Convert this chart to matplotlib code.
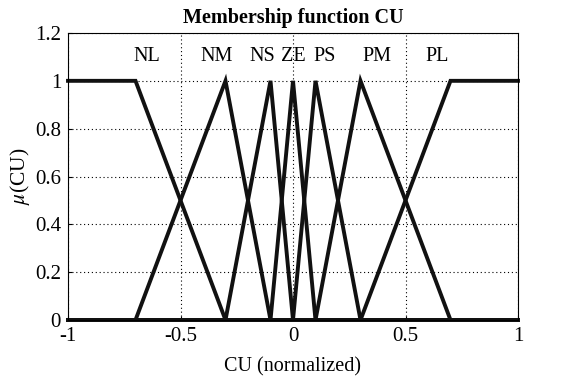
import matplotlib
matplotlib.use("Agg")
import matplotlib.pyplot as plt

plt.rcParams['font.family'] = ['Liberation Serif', 'DejaVu Serif']
plt.rcParams['mathtext.fontset'] = 'stix'

# membership functions: breakpoints (x) and memberships (y), over [-1, 1]
mf_names = ["NL", "NM", "NS", "ZE", "PS", "PM", "PL"]
mf_x = [
    [-1, -0.7, -0.3, 1],
    [-1, -0.7, -0.3, -0.1, 1],
    [-1, -0.3, -0.1, 0, 1],
    [-1, -0.1, 0, 0.1, 1],
    [-1, 0, 0.1, 0.3, 1],
    [-1, 0.1, 0.3, 0.7, 1],
    [-1, 0.3, 0.7, 1],
]
mf_y = [
    [1, 1, 0, 0],
    [0, 0, 1, 0, 0],
    [0, 0, 1, 0, 0],
    [0, 0, 1, 0, 0],
    [0, 0, 1, 0, 0],
    [0, 0, 1, 0, 0],
    [0, 0, 1, 1],
]
label_x = [-0.65, -0.34, -0.135, 0.0, 0.14, 0.375, 0.64]
label_y = 1.1

xticks = [-1, -0.5, 0, 0.5, 1]
xtick_labels = ["-1", "-0.5", "0", "0.5", "1"]
yticks = [0, 0.2, 0.4, 0.6, 0.8, 1, 1.2]
ytick_labels = ["0", "0.2", "0.4", "0.6", "0.8", "1", "1.2"]

fig = plt.figure(figsize=(5.65, 3.8), dpi=100)
ax = fig.add_axes([68 / 565, 60 / 380, 450 / 565, 287 / 380])

for xs, ys in zip(mf_x, mf_y):
    ax.plot(xs, ys, color='#111111', lw=2.8, solid_joinstyle='miter', clip_on=False)

for name, lx in zip(mf_names, label_x):
    ax.text(lx, label_y, name, ha='center', va='center', fontsize=14.5)

ax.set_xlim(-1, 1)
ax.set_ylim(0, 1.2)
ax.set_xticks(xticks)
ax.set_xticklabels(xtick_labels)
ax.set_yticks(yticks)
ax.set_yticklabels(ytick_labels)
ax.tick_params(direction='in', labelsize=15, length=3, pad=5)
ax.grid(True, color='black', linestyle=(0, (1, 2.5)), linewidth=0.8)
for sp in ax.spines.values():
    sp.set_linewidth(0.8)

ax.set_title("Membership function CU", fontsize=14.5, fontweight='bold', pad=7)
ax.set_xlabel("CU (normalized)", fontsize=14.5, labelpad=8)
ax.set_ylabel(r"$\mu$(CU)", fontsize=15.5, labelpad=2)

fig.savefig("out.png", dpi=100)
